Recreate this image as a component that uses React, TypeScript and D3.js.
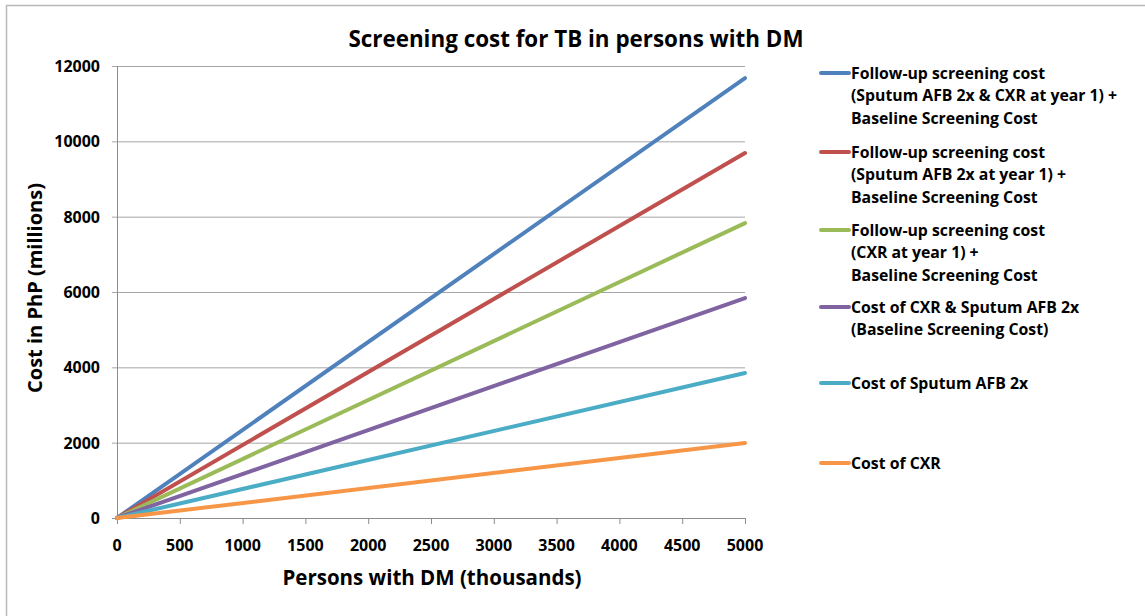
import { useEffect, useRef } from 'react';
import * as d3 from 'd3';

// persons with DM (thousands) at the two ends of each straight line
const persons = [0, 5000];

// cost in PhP (millions) at x = 0 and x = 5000
const cxrCost = [0, 1990];
const sputumCost = [0, 3850];
const baselineCost = [0, 5840];
const followCxr = [0, 7830];
const followSputum = [0, 9690];
const followBoth = [0, 11680];

const seriesLabels = [
  ['Follow-up screening cost', '(Sputum AFB 2x & CXR at year 1) +', 'Baseline Screening Cost'],
  ['Follow-up screening cost', '(Sputum AFB 2x at year 1) +', 'Baseline Screening Cost'],
  ['Follow-up screening cost', '(CXR at year 1) +', 'Baseline Screening Cost'],
  ['Cost of CXR & Sputum AFB 2x', '(Baseline Screening Cost)'],
  ['Cost of Sputum AFB 2x'],
  ['Cost of CXR'],
];
const seriesValues = [followBoth, followSputum, followCxr, baselineCost, sputumCost, cxrCost];
const colors = ['#4F81BD', '#C0504D', '#9BBB59', '#8064A2', '#4BACC6', '#F79646'];

const xTicks = [0, 500, 1000, 1500, 2000, 2500, 3000, 3500, 4000, 4500, 5000];
const yTicks = [0, 2000, 4000, 6000, 8000, 10000, 12000];

const W = 1145, H = 616;
const font = '"Open Sans", Lato, sans-serif';

export default function App() {
  const ref = useRef<SVGSVGElement>(null);

  useEffect(() => {
    const svg = d3.select(ref.current);
    svg.selectAll('*').remove();

    const x = d3.scaleLinear().domain([0, 5000]).range([117, 745]);
    const y = d3.scaleLinear().domain([0, 12000]).range([518, 66]);

    // outer frame (only left and top edges are in view)
    svg.append('path')
      .attr('d', `M6.5,${H} V5.5 H${W}`)
      .attr('fill', 'none')
      .attr('stroke', '#b8b8b8')
      .attr('stroke-width', 1.5);

    svg.append('text')
      .attr('x', 576).attr('y', 47)
      .attr('text-anchor', 'middle')
      .attr('font-family', font).attr('font-weight', 700)
      .attr('font-size', 22.4).attr('fill', '#000')
      .text('Screening cost for TB in persons with DM');

    // gridlines + y ticks
    const grid = svg.append('g');
    grid.selectAll('line').data(yTicks.filter((d) => d > 0)).enter().append('line')
      .attr('x1', 112).attr('x2', 745)
      .attr('y1', (d) => y(d) + 0.5).attr('y2', (d) => y(d) + 0.5)
      .attr('stroke', '#a6a6a6').attr('stroke-width', 1);

    svg.append('g').selectAll('text').data(yTicks).enter().append('text')
      .attr('x', 100).attr('y', (d) => y(d) + 6)
      .attr('text-anchor', 'end')
      .attr('font-family', font).attr('font-weight', 700).attr('font-size', 16)
      .text((d) => String(d));

    // axes
    svg.append('line')
      .attr('x1', 117.5).attr('x2', 117.5).attr('y1', y(12000)).attr('y2', 518)
      .attr('stroke', '#8c8c8c');
    svg.append('line')
      .attr('x1', 112).attr('x2', 745).attr('y1', 518.5).attr('y2', 518.5)
      .attr('stroke', '#8c8c8c');
    svg.append('g').selectAll('line').data(xTicks).enter().append('line')
      .attr('x1', (d) => x(d) + 0.5).attr('x2', (d) => x(d) + 0.5)
      .attr('y1', 518).attr('y2', 524)
      .attr('stroke', '#8c8c8c');
    svg.append('g').selectAll('text').data(xTicks).enter().append('text')
      .attr('x', (d) => x(d)).attr('y', 551)
      .attr('text-anchor', 'middle')
      .attr('font-family', font).attr('font-weight', 700).attr('font-size', 16)
      .text((d) => String(d));

    svg.append('text')
      .attr('x', 432).attr('y', 585)
      .attr('text-anchor', 'middle')
      .attr('font-family', font).attr('font-weight', 700).attr('font-size', 20.5)
      .text('Persons with DM (thousands)');

    svg.append('text')
      .attr('transform', 'translate(42,288) rotate(-90)')
      .attr('text-anchor', 'middle')
      .attr('font-family', font).attr('font-weight', 700).attr('font-size', 20)
      .text('Cost in PhP (millions)');

    // series lines
    const line = d3.line<number>()
      .x((_, i) => x(persons[i]))
      .y((d) => y(d));
    svg.append('g').selectAll('path').data(seriesValues).enter().append('path')
      .attr('d', (d) => line(d))
      .attr('fill', 'none')
      .attr('stroke', (_, i) => colors[i])
      .attr('stroke-width', 4)
      .attr('stroke-linecap', 'round');

    // legend
    const legendTop = [73, 152, 230, 307, 383, 463];
    const lg = svg.append('g');
    seriesLabels.forEach((lines, i) => {
      lg.append('line')
        .attr('x1', 821).attr('x2', 849)
        .attr('y1', legendTop[i]).attr('y2', legendTop[i])
        .attr('stroke', colors[i]).attr('stroke-width', 4).attr('stroke-linecap', 'round');
      lines.forEach((t, j) => {
        lg.append('text')
          .attr('x', 851).attr('y', legendTop[i] + 5.5 + j * 22.5)
          .attr('font-family', font).attr('font-weight', 700).attr('font-size', 15.8)
          .text(t);
      });
    });
  }, []);

  return (
    <svg ref={ref} width={W} height={H}
      style={{ position: 'absolute', left: 0, top: 0, background: '#fff' }} />
  );
}
